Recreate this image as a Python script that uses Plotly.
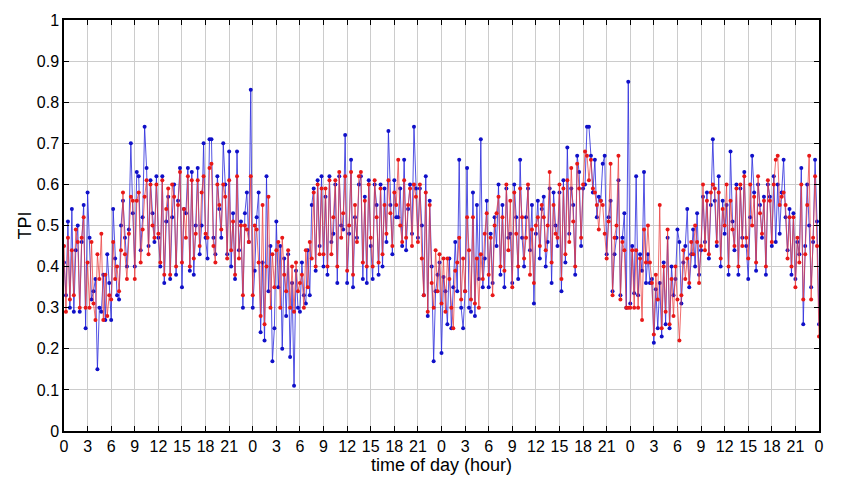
import numpy as np
import plotly.graph_objects as go

# samples every 15 minutes over four days (hours)
hours = np.arange(0, 96.01, 0.25)

tpi_blue = [
    0.41, 0.33, 0.51, 0.30, 0.54, 0.29, 0.44, 0.50, 0.29, 0.46, 0.55, 0.25,
    0.58, 0.47, 0.32, 0.34, 0.37, 0.15, 0.30, 0.29, 0.38, 0.27, 0.43, 0.36,
    0.27, 0.54, 0.42, 0.33, 0.32, 0.50, 0.56, 0.47, 0.40, 0.49, 0.70, 0.53,
    0.40, 0.63, 0.62, 0.44, 0.52, 0.74, 0.64, 0.45, 0.61, 0.53, 0.46, 0.62,
    0.47, 0.40, 0.62, 0.36, 0.51, 0.57, 0.37, 0.52, 0.60, 0.38, 0.56, 0.64,
    0.35, 0.54, 0.53, 0.64, 0.39, 0.63, 0.38, 0.50, 0.64, 0.43, 0.50, 0.70,
    0.47, 0.42, 0.71, 0.71, 0.47, 0.43, 0.62, 0.54, 0.47, 0.70, 0.60, 0.43,
    0.68, 0.40, 0.53, 0.37, 0.68, 0.44, 0.51, 0.30, 0.53, 0.58, 0.46, 0.83,
    0.30, 0.39, 0.52, 0.58, 0.24, 0.41, 0.22, 0.62, 0.34, 0.45, 0.17, 0.25,
    0.51, 0.35, 0.45, 0.20, 0.42, 0.28, 0.43, 0.18, 0.36, 0.11, 0.39, 0.30,
    0.29, 0.41, 0.33, 0.31, 0.44, 0.33, 0.55, 0.59, 0.39, 0.61, 0.45, 0.62,
    0.40, 0.57, 0.38, 0.62, 0.46, 0.48, 0.60, 0.36, 0.62, 0.50, 0.49, 0.72,
    0.36, 0.48, 0.66, 0.35, 0.52, 0.47, 0.60, 0.62, 0.37, 0.57, 0.36, 0.61,
    0.45, 0.37, 0.60, 0.55, 0.38, 0.60, 0.40, 0.59, 0.46, 0.73, 0.55, 0.43,
    0.61, 0.52, 0.52, 0.59, 0.45, 0.66, 0.44, 0.54, 0.60, 0.48, 0.74, 0.59,
    0.47, 0.59, 0.50, 0.33, 0.62, 0.28, 0.56, 0.40, 0.17, 0.34, 0.38, 0.41,
    0.19, 0.375, 0.34, 0.26, 0.42, 0.25, 0.35, 0.46, 0.34, 0.66, 0.30, 0.25,
    0.34, 0.64, 0.30, 0.29, 0.58, 0.28, 0.55, 0.37, 0.71, 0.35, 0.42, 0.56,
    0.35, 0.48, 0.36, 0.52, 0.45, 0.60, 0.38, 0.55, 0.35, 0.59, 0.47, 0.48,
    0.36, 0.60, 0.52, 0.37, 0.66, 0.47, 0.40, 0.52, 0.59, 0.44, 0.55, 0.31,
    0.48, 0.56, 0.42, 0.54, 0.57, 0.40, 0.46, 0.59, 0.36, 0.58, 0.50, 0.45,
    0.58, 0.34, 0.61, 0.41, 0.69, 0.48, 0.59, 0.55, 0.38, 0.67, 0.63, 0.45,
    0.59, 0.60, 0.74, 0.74, 0.67, 0.58, 0.66, 0.52, 0.57, 0.56, 0.65, 0.67,
    0.43, 0.52, 0.56, 0.34, 0.43, 0.47, 0.61, 0.33, 0.47, 0.53, 0.30, 0.85,
    0.31, 0.45, 0.335, 0.62, 0.33, 0.43, 0.39, 0.63, 0.36, 0.43, 0.36, 0.37,
    0.215, 0.345, 0.25, 0.36, 0.23, 0.41, 0.26, 0.47, 0.25, 0.40, 0.33, 0.37,
    0.49, 0.46, 0.31, 0.41, 0.45, 0.54, 0.35, 0.43, 0.49, 0.40, 0.53, 0.38,
    0.44, 0.57, 0.46, 0.58, 0.42, 0.55, 0.71, 0.56, 0.45, 0.62, 0.40, 0.56,
    0.48, 0.55, 0.38, 0.68, 0.51, 0.44, 0.60, 0.38, 0.59, 0.47, 0.63, 0.45,
    0.37, 0.52, 0.67, 0.58, 0.39, 0.60, 0.55, 0.47, 0.57, 0.38, 0.60, 0.57,
    0.45, 0.62, 0.46, 0.60, 0.48, 0.58, 0.66, 0.52, 0.44, 0.54, 0.38, 0.53,
    0.37, 0.46, 0.43, 0.64, 0.26, 0.45, 0.60, 0.50, 0.35, 0.46, 0.66, 0.51,
    0.26,
]

tpi_red = [
    0.45, 0.29, 0.47, 0.32, 0.44, 0.33, 0.49, 0.46, 0.30, 0.47, 0.52, 0.30,
    0.41, 0.30, 0.46, 0.31, 0.27, 0.43, 0.37, 0.48, 0.27, 0.38, 0.28, 0.33,
    0.32, 0.46, 0.37, 0.40, 0.34, 0.44, 0.58, 0.43, 0.37, 0.48, 0.57, 0.56,
    0.37, 0.56, 0.58, 0.41, 0.49, 0.57, 0.61, 0.43, 0.60, 0.50, 0.47, 0.60,
    0.48, 0.41, 0.61, 0.38, 0.54, 0.59, 0.38, 0.60, 0.57, 0.40, 0.55, 0.63,
    0.41, 0.54, 0.47, 0.62, 0.40, 0.61, 0.42, 0.48, 0.61, 0.45, 0.58, 0.62,
    0.48, 0.47, 0.64, 0.65, 0.45, 0.41, 0.60, 0.55, 0.49, 0.60, 0.57, 0.42,
    0.61, 0.44, 0.51, 0.38, 0.62, 0.42, 0.50, 0.33, 0.50, 0.49, 0.46, 0.62,
    0.33, 0.50, 0.49, 0.41, 0.28, 0.55, 0.26, 0.40, 0.57, 0.30, 0.43, 0.35,
    0.44, 0.46, 0.30, 0.47, 0.38, 0.34, 0.44, 0.30, 0.40, 0.29, 0.41, 0.34,
    0.36, 0.38, 0.30, 0.44, 0.35, 0.46, 0.42, 0.58, 0.40, 0.60, 0.43, 0.59,
    0.43, 0.59, 0.40, 0.61, 0.43, 0.52, 0.61, 0.40, 0.63, 0.47, 0.53, 0.62,
    0.39, 0.50, 0.63, 0.38, 0.55, 0.46, 0.62, 0.63, 0.41, 0.56, 0.40, 0.60,
    0.47, 0.40, 0.61, 0.52, 0.41, 0.59, 0.43, 0.55, 0.48, 0.61, 0.53, 0.45,
    0.58, 0.55, 0.66, 0.50, 0.46, 0.61, 0.47, 0.55, 0.59, 0.45, 0.60, 0.57,
    0.46, 0.60, 0.42, 0.33, 0.58, 0.29, 0.55, 0.36, 0.30, 0.44, 0.34, 0.43,
    0.31, 0.42, 0.29, 0.42, 0.37, 0.30, 0.25, 0.39, 0.41, 0.47, 0.32, 0.42,
    0.34, 0.52, 0.44, 0.32, 0.52, 0.31, 0.42, 0.30, 0.43, 0.37, 0.48, 0.53,
    0.38, 0.47, 0.33, 0.50, 0.53, 0.57, 0.40, 0.52, 0.39, 0.60, 0.44, 0.56,
    0.35, 0.58, 0.48, 0.40, 0.59, 0.52, 0.42, 0.47, 0.60, 0.38, 0.49, 0.36,
    0.50, 0.52, 0.45, 0.55, 0.52, 0.44, 0.50, 0.63, 0.41, 0.55, 0.48, 0.47,
    0.60, 0.37, 0.59, 0.43, 0.61, 0.46, 0.64, 0.51, 0.40, 0.65, 0.59, 0.47,
    0.60, 0.68, 0.67, 0.61, 0.66, 0.59, 0.58, 0.55, 0.49, 0.56, 0.55, 0.48,
    0.42, 0.51, 0.65, 0.33, 0.47, 0.50, 0.67, 0.32, 0.46, 0.44, 0.30, 0.30,
    0.30, 0.44, 0.30, 0.44, 0.30, 0.42, 0.27, 0.49, 0.41, 0.50, 0.41, 0.36,
    0.235, 0.38, 0.32, 0.55, 0.25, 0.40, 0.29, 0.49, 0.26, 0.37, 0.28, 0.40,
    0.32, 0.22, 0.33, 0.44, 0.37, 0.42, 0.36, 0.46, 0.43, 0.50, 0.46, 0.36,
    0.45, 0.60, 0.44, 0.56, 0.43, 0.58, 0.60, 0.59, 0.46, 0.58, 0.42, 0.54,
    0.50, 0.60, 0.40, 0.56, 0.49, 0.45, 0.59, 0.40, 0.60, 0.45, 0.62, 0.47,
    0.42, 0.60, 0.50, 0.57, 0.41, 0.62, 0.53, 0.48, 0.56, 0.40, 0.61, 0.56,
    0.46, 0.60, 0.66, 0.67, 0.55, 0.57, 0.58, 0.55, 0.42, 0.52, 0.40, 0.52,
    0.35, 0.47, 0.41, 0.60, 0.32, 0.43, 0.55, 0.67, 0.32, 0.47, 0.62, 0.45,
    0.23,
]

tick_hours = list(range(0, 97, 3))
tick_labels = ["0", "3", "6", "9", "12", "15", "18", "21"] * 4 + ["0"]
y_ticks = [0, 0.1, 0.2, 0.3, 0.4, 0.5, 0.6, 0.7, 0.8, 0.9, 1]
y_labels = ["0", "0.1", "0.2", "0.3", "0.4", "0.5", "0.6", "0.7", "0.8", "0.9", "1"]

FONT = "Liberation Sans, Arial, sans-serif"

fig = go.Figure()
fig.add_trace(go.Scatter(
    x=hours, y=tpi_blue, mode="lines+markers",
    line=dict(color="rgba(40,40,220,0.8)", width=1),
    marker=dict(color="#1010c8", size=4),
    showlegend=False,
))
fig.add_trace(go.Scatter(
    x=hours, y=tpi_red, mode="lines+markers",
    line=dict(color="rgba(235,60,60,0.75)", width=1),
    marker=dict(color="#e81818", size=4),
    showlegend=False,
))

axis_common = dict(
    showline=True, linecolor="black", linewidth=1.5, mirror="ticks",
    ticks="inside", ticklen=5, tickcolor="black",
    showgrid=True, gridcolor="#cccccc", gridwidth=1,
    zeroline=False, automargin=False,
    tickfont=dict(family=FONT, size=16, color="black"),
)

fig.update_xaxes(
    range=[0, 96], tickvals=tick_hours, ticktext=tick_labels,
    title=dict(text="time of day (hour)", font=dict(family=FONT, size=18, color="black"), standoff=0),
    **axis_common,
)
fig.update_yaxes(
    range=[0, 1], tickvals=y_ticks, ticktext=y_labels,
    title=dict(text="TPI", font=dict(family=FONT, size=18, color="black"), standoff=0),
    **axis_common,
)

fig.update_layout(
    width=844, height=486,
    plot_bgcolor="white", paper_bgcolor="white",
    margin=dict(l=56, r=33, t=12, b=63),
    font=dict(family=FONT),
)

fig.write_html("out.html")
